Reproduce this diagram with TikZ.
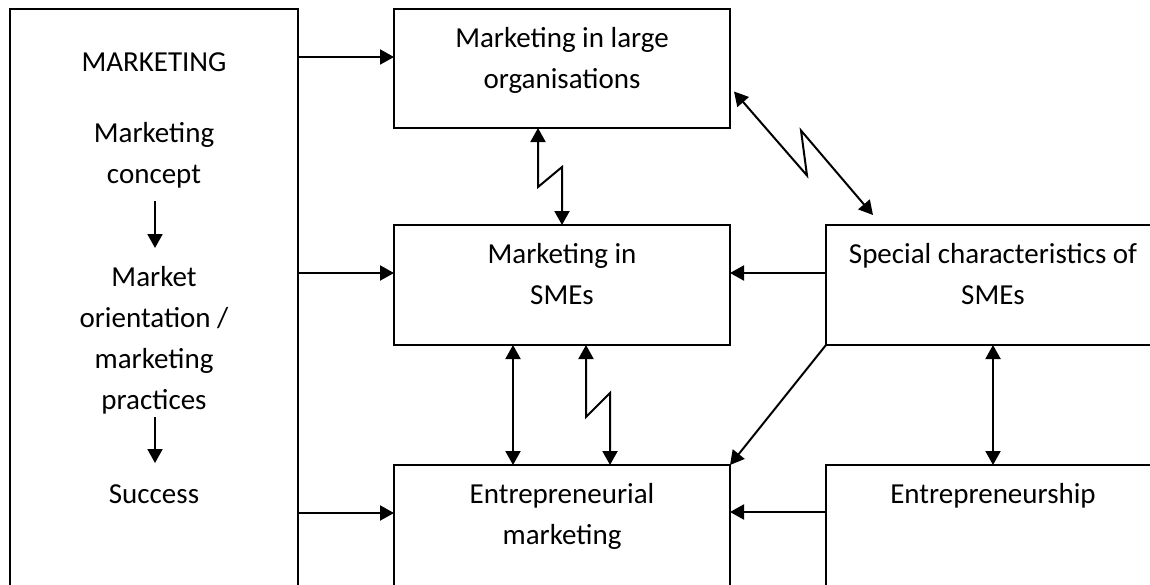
\documentclass[tikz,border=0pt]{standalone}
\usepackage{fontspec}
\setmainfont{Carlito}
\usetikzlibrary{arrows.meta,calc}
\begin{document}
\begin{tikzpicture}[x=1pt,y=-1pt,
  box/.style={draw=black,line width=2pt,inner sep=0pt,outer sep=0pt,anchor=north west},
  % text nodes are placed by the baseline of their last line
  txt/.style={font=\fontsize{29}{41}\selectfont,align=center,inner sep=0pt,anchor=base},
  arr/.style={line width=2pt,-{Triangle[length=14pt,width=15pt]}},
  dbl/.style={line width=2pt,{Triangle[length=14pt,width=15pt]}-{Triangle[length=14pt,width=15pt]}}]
\useasboundingbox (0,0) rectangle (1150,584);
\clip (0,0) rectangle (1150,584);

% boxes
\node[box,minimum width=288pt,minimum height=640pt] (L) at (10,9) {};
\node[box,minimum width=336pt,minimum height=119pt] (A) at (394,9) {};
\node[box,minimum width=336pt,minimum height=120pt] (B) at (394,225) {};
\node[box,minimum width=336pt,minimum height=160pt] (C) at (394,465) {};
\node[box,minimum width=334pt,minimum height=120pt] (S) at (826,225) {};
\node[box,minimum width=334pt,minimum height=160pt] (E) at (826,465) {};

% texts of the left column
\node[txt] (t1) at (154,71) {MARKETING};
\node[txt] (t2) at (154,183) {Marketing\\concept};
\node[txt] (t3) at (154,409) {Market\\orientation /\\marketing\\practices};
\node[txt] (t4) at (154,503) {Success};
\draw[arr] ($(t2.base)+(1,18)$) -- ($(t3.base)+(1,-161)$);
\draw[arr] ($(t3.base)+(1,8)$) -- ($(t4.base)+(1,-40)$);

% texts of the other boxes
\node[txt] (tA) at (562,88) {Marketing in large\\organisations};
\node[txt] (tB) at (562,304) {Marketing in\\SMEs};
\node[txt] (tC) at (562,544) {Entrepreneurial\\marketing};
\node[txt] (tS) at (993,304) {Special characteristics of\\SMEs};
\node[txt] (tE) at (993,503) {Entrepreneurship};

% arrows from the left column
\coordinate (la) at ($(L.north east)+(0,48)$);
\coordinate (lb) at ($(L.north east)+(0,264)$);
\coordinate (lc) at ($(L.north east)+(0,504)$);
\draw[arr] (la) -- (la -| A.west);
\draw[arr] (lb) -- (lb -| B.west);
\draw[arr] (lc) -- (lc -| C.west);

% arrows from the right column
\coordinate (sb) at ($(S.north west)+(0,48)$);
\coordinate (ec) at ($(E.north west)+(0,47)$);
\draw[arr] (sb) -- (sb -| B.east);
\draw[arr] (ec) -- (ec -| C.east);
\draw[arr] (S.south west) -- (C.north east);
\draw[dbl] (S.south) -- (E.north);

% links between the middle boxes
\draw[dbl] ($(B.south)+(-49,0)$) -- ($(C.north)+(-49,0)$);
\draw[dbl] ($(B.south)+(24,0)$) -- ++(0,72) -- ++(24,-24) -- ($(C.north)+(48,0)$);
\draw[dbl] ($(A.south)+(-24,0)$) -- ++(0,59) -- ++(24,-20) -- (B.north);
\draw[dbl] ($(A.east)+(4,23)$) -- ++(73,84) -- ++(-6,-45) -- ($(S.north west)+(47,-10)$);
\end{tikzpicture}
\end{document}
